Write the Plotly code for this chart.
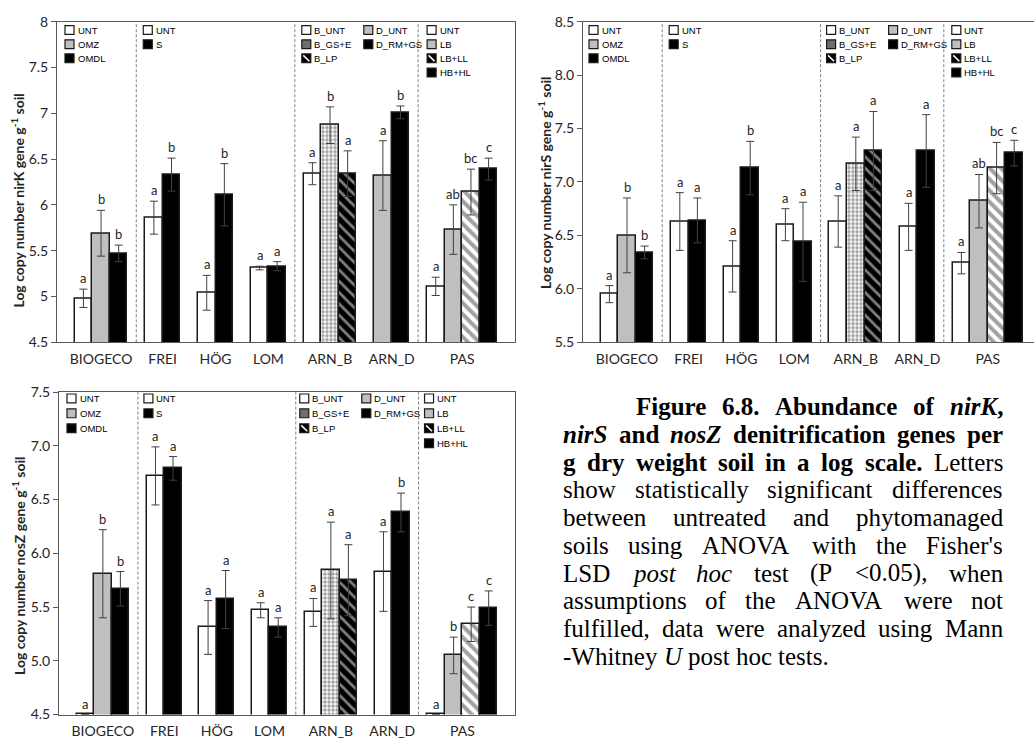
import plotly.graph_objects as go

W, H = 1034, 746

# ---------------- data ----------------
SITES = ["BIOGECO", "FREI", "HÖG", "LOM", "ARN_B", "ARN_D", "PAS"]
N_TREAT = [3, 2, 2, 2, 3, 2, 4]
SECTION_SIZES = [1, 3, 2, 1]  # sites per dashed-line section

TREATMENTS = ["UNT", "OMZ", "OMDL", "UNT", "S", "UNT", "S", "UNT", "S",
              "B_UNT", "B_GS+E", "B_LP", "D_UNT", "D_RM+GS",
              "UNT", "LB", "LB+LL", "HB+HL"]

nirK_mean = [4.98, 5.69, 5.47, 5.86, 6.33, 5.04, 6.11, 5.31, 5.33,
             6.34, 6.87, 6.34, 6.32, 7.01, 5.11, 5.73, 6.14, 6.39]
nirK_err = [0.10, 0.25, 0.09, 0.18, 0.18, 0.19, 0.34, 0.02, 0.05,
            0.12, 0.20, 0.25, 0.38, 0.07, 0.10, 0.27, 0.25, 0.12]
nirK_letters = ["a", "b", "b", "a", "b", "a", "b", "a", "a",
                "a", "b", "a", "a", "b", "a", "ab", "bc", "c"]

nirS_mean = [5.95, 6.50, 6.34, 6.63, 6.64, 6.21, 7.13, 6.60, 6.44,
             6.63, 7.17, 7.29, 6.58, 7.29, 6.24, 6.82, 7.13, 7.27]
nirS_err = [0.08, 0.35, 0.06, 0.27, 0.21, 0.24, 0.25, 0.15, 0.37,
            0.24, 0.25, 0.37, 0.22, 0.34, 0.10, 0.25, 0.24, 0.12]
nirS_letters = ["a", "b", "b", "a", "a", "a", "b", "a", "a",
                "a", "a", "a", "a", "a", "a", "ab", "bc", "c"]

nosZ_mean = [4.5, 5.81, 5.67, 6.72, 6.79, 5.31, 5.57, 5.47, 5.31,
             5.45, 5.84, 5.75, 5.83, 6.38, 4.5, 5.05, 5.34, 5.49]
nosZ_err = [0.0, 0.41, 0.16, 0.27, 0.11, 0.25, 0.27, 0.07, 0.09,
            0.13, 0.45, 0.33, 0.37, 0.18, 0.0, 0.17, 0.16, 0.16]
nosZ_letters = ["a", "b", "b", "a", "a", "a", "a", "a", "a",
                "a", "a", "a", "a", "b", "a", "b", "c", "c"]

nirK_fill = ["white", "gray", "black", "white", "black", "white", "black", "white", "black",
             "white", "dots", "hatch_dark", "gray", "black", "white", "gray", "hatch_light", "black"]
nirS_fill = ["white", "gray", "black", "white", "black", "white", "black", "white", "black",
             "white", "dots", "hatch_dark", "white", "black", "white", "gray", "hatch_light", "black"]
nosZ_fill = list(nirS_fill)

LEGENDS = [
    [[("UNT", "white"), ("OMZ", "gray"), ("OMDL", "black")]],
    [[("UNT", "white"), ("S", "black")]],
    [[("B_UNT", "white"), ("B_GS+E", "dots"), ("B_LP", "hatch")],
     [("D_UNT", "gray"), ("D_RM+GS", "black")]],
    [[("UNT", "white"), ("LB", "gray"), ("LB+LL", "hatch"), ("HB+HL", "black")]],
]

CAPTION = [
    "b:Figure b:6.8. b:Abundance b:of bi:nirK|b:,",
    "bi:nirS b:and bi:nosZ b:denitrification b:genes b:per",
    "b:g b:dry b:weight b:soil b:in b:a b:log b:scale. r:Letters",
    "r:show r:statistically r:significant r:differences",
    "r:between r:untreated r:and r:phytomanaged",
    "r:soils r:using r:ANOVA r:with r:the r:Fisher's",
    "r:LSD i:post i:hoc r:test r:(P r:<0.05), r:when",
    "r:assumptions r:of r:the r:ANOVA r:were r:not",
    "r:fulfilled, r:data r:were r:analyzed r:using r:Mann",
    "r:-Whitney i:U r:post r:hoc r:tests.",
]

# ---------------- styles ----------------
FILL = {
    "white": dict(color="white", shape="", sol=0.5, size=8, fg="black", bg="white"),
    "gray": dict(color="#bfbfbf", shape="", sol=0.5, size=8, fg="black", bg="white"),
    "black": dict(color="black", shape="", sol=0.5, size=8, fg="black", bg="white"),
    "dots": dict(color="white", shape=".", sol=0.6, size=4, fg="black", bg="white"),
    "hatch_dark": dict(color="black", shape="\\", sol=0.35, size=8, fg="white", bg="black"),
    "hatch_light": dict(color="white", shape="\\", sol=0.5, size=8, fg="black", bg="white"),
}
TXT = "#262626"
AX = "#595959"
FONT = "Lato"

PANELS = [
    dict(gene="nirK", mean=nirK_mean, err=nirK_err, let=nirK_letters, fill=nirK_fill,
         left=57, right=515, top=13, bottom=341, xmax=26, yr=[4.5, 8], fmt="",
         mirror=True, title_x=18, title_y=196, leg_off=[8, 7, 7, 9], row0=8.5, drow=14.5),
    dict(gene="nirS", mean=nirS_mean, err=nirS_err, let=nirS_letters, fill=nirS_fill,
         left=583, right=1034, top=13, bottom=341, xmax=451 / 17.6, yr=[5.5, 8.5], fmt=".1f",
         mirror=False, title_x=545, title_y=178, leg_off=[6, 7, 6, 8], row0=8.5, drow=14.5),
    dict(gene="nosZ", mean=nosZ_mean, err=nosZ_err, let=nosZ_letters, fill=nosZ_fill,
         left=59, right=515, top=392, bottom=722, xmax=26, yr=[4.5, 7.5], fmt=".1f",
         mirror=True, title_x=18, title_y=570, leg_off=[8, 6, 4, 6], row0=6.5, drow=15.3),
]


def layout_positions():
    xs, centers, gaps = [], [], []
    cur = 1.0
    for n in N_TREAT:
        xs += [cur + 0.5 + i for i in range(n)]
        centers.append(cur + n / 2)
        cur += n + 1
        gaps.append(cur - 0.5)
    return xs, centers, gaps


XS, CENTERS, GAPS = layout_positions()
sep_idx = []
acc = 0
for s in SECTION_SIZES[:-1]:
    acc += s
    sep_idx.append(acc - 1)
SEPARATORS = [GAPS[i] for i in sep_idx]
SECTION_STARTS = [0.0] + SEPARATORS


def px(x):
    return x / W


def py(y):
    return 1 - y / H


fig = go.Figure()
shapes, annotations = [], []

for k, P in enumerate(PANELS):
    sfx = "" if k == 0 else str(k + 1)
    xa, ya = "x" + sfx, "y" + sfx
    unit = (P["right"] - P["left"]) / P["xmax"]

    fills = [FILL[f] for f in P["fill"]]
    fig.add_trace(go.Bar(
        x=XS, y=P["mean"], width=1.0, xaxis=xa, yaxis=ya, showlegend=False,
        hovertext=TREATMENTS, hoverinfo="text+y",
        marker=dict(color=[f["color"] for f in fills],
                    line=dict(color="#1a1a1a", width=1.5),
                    pattern=dict(shape=[f["shape"] for f in fills],
                                 fgcolor=[f["fg"] for f in fills],
                                 bgcolor=[f["bg"] for f in fills],
                                 size=[f["size"] for f in fills],
                                 solidity=[f["sol"] for f in fills])),
        error_y=dict(type="data", array=P["err"], visible=True, color="#404040",
                     thickness=1, width=4),
    ))

    dom_x = [px(P["left"]), px(P["right"])]
    dom_y = [py(P["bottom"]), py(P["top"])]
    fig.update_layout(**{
        ("xaxis" + sfx): dict(domain=dom_x, range=[0, P["xmax"]], anchor=ya,
                              showline=True, linecolor=AX, linewidth=1, mirror=True,
                              ticks="", tickvals=CENTERS, ticktext=SITES,
                              tickfont=dict(family=FONT, size=14, color=TXT),
                              ticklabelstandoff=4, showgrid=False, zeroline=False),
        ("yaxis" + sfx): dict(domain=dom_y, range=P["yr"], anchor=xa, dtick=0.5,
                              tickformat=P["fmt"], showline=True, linecolor=AX, linewidth=1,
                              mirror=P["mirror"], ticks="outside", ticklen=5, tickcolor=AX,
                              tickfont=dict(family=FONT, size=14, color=TXT),
                              showgrid=False, zeroline=False),
    })

    # dashed separators
    for sx in SEPARATORS:
        shapes.append(dict(type="line", xref=xa, yref=ya + " domain", x0=sx, x1=sx, y0=0, y1=1,
                           line=dict(color="#808080", width=1, dash="3px,2px")))

    # significance letters
    for x, m, e, l in zip(XS, P["mean"], P["err"], P["let"]):
        annotations.append(dict(x=x, y=m + e, xref=xa, yref=ya, text=l, showarrow=False,
                                yanchor="bottom", yshift=1,
                                font=dict(family=FONT, size=13, color=TXT)))

    # y title
    annotations.append(dict(x=px(P["title_x"]), y=py(P["title_y"]), xref="paper", yref="paper",
                            text="<b>Log copy number %s gene g<sup>-1</sup> soil</b>" % P["gene"],
                            textangle=-90, showarrow=False, xanchor="center", yanchor="middle",
                            font=dict(family=FONT, size=14, color=TXT)))

    # section legends
    sq = 9
    for si, cols in enumerate(LEGENDS):
        x0 = P["left"] + SECTION_STARTS[si] * unit + P["leg_off"][si]
        for ci, col in enumerate(cols):
            cx = x0 + ci * 62
            for ri, (lab, sty) in enumerate(col):
                cy = P["top"] + P["row0"] + ri * P["drow"]
                fc = {"white": "white", "gray": "#bfbfbf", "black": "black",
                      "dots": "#6e6e6e", "hatch": "black"}[sty]
                shapes.append(dict(type="rect", xref="paper", yref="paper",
                                   x0=px(cx), x1=px(cx + sq), y0=py(cy + sq / 2), y1=py(cy - sq / 2),
                                   fillcolor=fc, line=dict(color="#1a1a1a", width=1.2)))
                if sty == "hatch":
                    shapes.append(dict(type="line", xref="paper", yref="paper",
                                       x0=px(cx + 1.5), x1=px(cx + sq - 1.5),
                                       y0=py(cy - sq / 2 + 1.5), y1=py(cy + sq / 2 - 1.5),
                                       line=dict(color="white", width=1.6)))
                annotations.append(dict(x=px(cx + sq + 2.5), y=py(cy), xref="paper", yref="paper",
                                        text=lab, showarrow=False, xanchor="left",
                                        yanchor="middle", borderpad=0,
                                        font=dict(family="Liberation Sans", size=9.5, color="black")))

# ---------------- caption (justified text) ----------------
REG_W = dict(zip("abcdefghijklmnopqrstuvwxyz",
                 [444, 500, 444, 500, 444, 333, 500, 500, 278, 278, 500, 278, 778, 500, 500, 500,
                  500, 333, 389, 278, 500, 500, 722, 500, 500, 444]))
REG_W.update(zip("ABCDEFGHIJKLMNOPQRSTUVWXYZ",
                 [722, 667, 667, 722, 611, 556, 722, 722, 333, 389, 722, 611, 889, 722, 722, 556,
                  722, 667, 556, 611, 722, 722, 944, 722, 722, 611]))
REG_W.update({" ": 250, "'": 180, "(": 333, ")": 333, ",": 250, "-": 333, ".": 250, "<": 564})
REG_W.update({d: 500 for d in "0123456789"})
BOLD_W = dict(REG_W)
BOLD_W.update(zip("abcdefghijklmnopqrstuvwxyz",
                  [500, 556, 444, 556, 444, 333, 500, 556, 278, 333, 556, 278, 833, 556, 500, 556,
                   556, 444, 389, 333, 556, 500, 722, 500, 500, 444]))
BOLD_W.update({"A": 722, "F": 611, "K": 778, "L": 667, "S": 556, "Z": 667})
ITAL_W = dict(REG_W)
ITAL_W.update(zip("abcdefghijklmnopqrstuvwxyz",
                  [500, 500, 444, 500, 444, 278, 500, 500, 278, 278, 444, 278, 722, 500, 500, 500,
                   500, 389, 389, 278, 500, 444, 667, 444, 444, 389]))
BI_W = dict(ITAL_W)
BI_W.update({"n": 556, "h": 556, "u": 556, "K": 667, "S": 556, "Z": 611})
TABLE = {"r": REG_W, "b": BOLD_W, "i": ITAL_W, "bi": BI_W}

CAP_FS = 25
CAP_LEFT, CAP_RIGHT, CAP_INDENT = 562, 1002, 635
CAP_Y0, CAP_DY = 407, 28.4


def parse_word(w):
    segs = []
    for seg in w.split("|"):
        st, t = seg.split(":", 1)
        segs.append((st, t))
    return segs


def word_width(segs):
    return sum(TABLE[st].get(c, 500) for st, t in segs for c in t) / 1000 * CAP_FS


def word_html(segs):
    out = ""
    for st, t in segs:
        t = t.replace("<", "&lt;")
        if st == "b":
            out += "<b>%s</b>" % t
        elif st == "i":
            out += "<i>%s</i>" % t
        elif st == "bi":
            out += "<b><i>%s</i></b>" % t
        else:
            out += t
    return out


for li, line in enumerate(CAPTION):
    words = [parse_word(w) for w in line.split(" ")]
    widths = [word_width(w) for w in words]
    x_start = CAP_INDENT if li == 0 else CAP_LEFT
    last = li == len(CAPTION) - 1
    if last or len(words) < 2:
        gap = 0.25 * CAP_FS
    else:
        gap = (CAP_RIGHT - x_start - sum(widths)) / (len(words) - 1)
    x = x_start
    yc = CAP_Y0 + li * CAP_DY
    for w, wd in zip(words, widths):
        annotations.append(dict(x=px(x), y=py(yc), xref="paper", yref="paper",
                                text=word_html(w), showarrow=False, xanchor="left",
                                yanchor="middle", borderpad=0,
                                font=dict(family="Liberation Serif", size=CAP_FS, color="black")))
        x += wd + gap

fig.update_layout(
    width=W, height=H, margin=dict(l=0, r=0, t=0, b=0),
    paper_bgcolor="white", plot_bgcolor="white",
    shapes=shapes, annotations=annotations, showlegend=False,
    bargap=0,
)

fig.write_html("out.html")
